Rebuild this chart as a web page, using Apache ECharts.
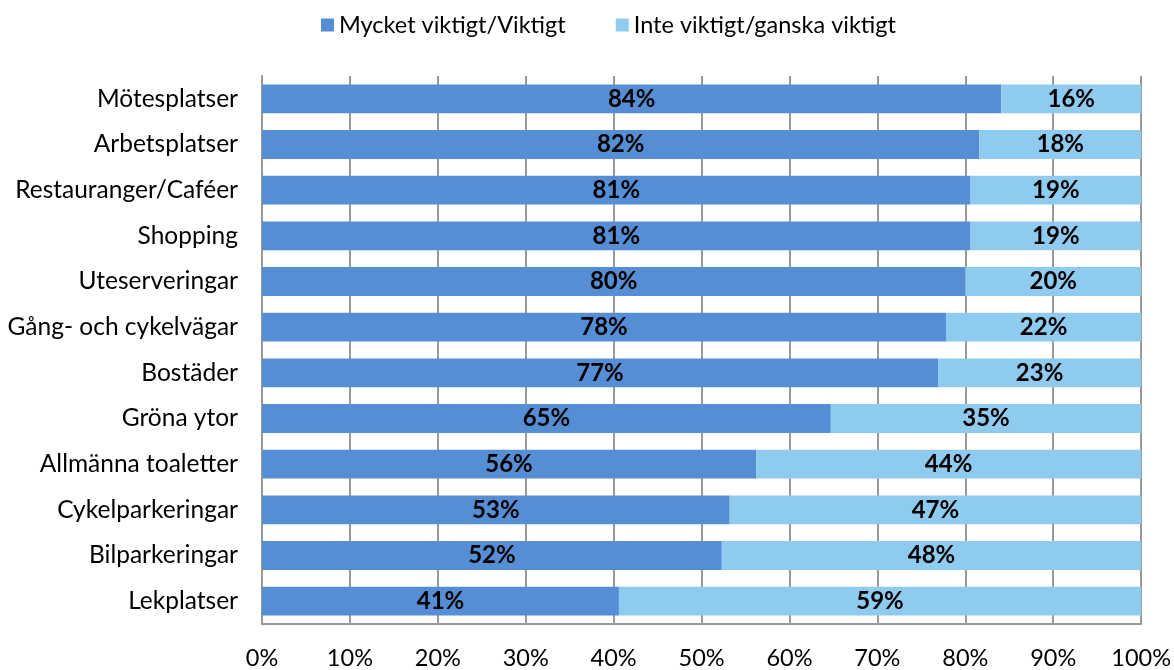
<!DOCTYPE html>
<html>
<head>
<meta charset="utf-8">
<script src="https://cdn.jsdelivr.net/npm/echarts@6/dist/echarts.min.js"></script>
<style>html,body{margin:0;padding:0;background:#fff}#c{width:1174px;height:670px}</style>
</head>
<body>
<div id="c"></div>
<script>
const categories = ["Mötesplatser","Arbetsplatser","Restauranger/Caféer","Shopping","Uteserveringar","Gång- och cykelvägar","Bostäder","Gröna ytor","Allmänna toaletter","Cykelparkeringar","Bilparkeringar","Lekplatser"];
const seriesNames = ["Mycket viktigt/Viktigt","Inte viktigt/ganska viktigt"];
const important = [84.1,81.6,80.6,80.6,80.0,77.8,76.9,64.7,56.2,53.2,52.3,40.6];
const notImportant = [15.9,18.4,19.4,19.4,20.0,22.2,23.1,35.3,43.8,46.8,47.7,59.4];
const xTicks = {min:0,max:100,interval:10};

const font = "Lato, 'Open Sans', sans-serif";
const chart = echarts.init(document.getElementById('c'));
const lbl = {show:true,position:'inside',color:'#000',fontWeight:'bold',fontSize:24,fontFamily:font,formatter:p=>Math.round(p.value)+'%'};
chart.setOption({
  animation:false,
  textStyle:{fontFamily:font},
  legend:{top:8,left:316,itemWidth:13,itemHeight:13,itemGap:50,icon:'rect',
    textStyle:{fontSize:23.5,color:'#000',fontFamily:font},data:seriesNames},
  grid:{left:262,right:32,top:76,bottom:44,containLabel:false},
  xAxis:{type:'value',min:xTicks.min,max:xTicks.max,interval:xTicks.interval,
    axisLabel:{formatter:'{value}%',fontSize:23.5,color:'#000',margin:22,fontFamily:font},
    axisLine:{show:true,lineStyle:{color:'#999',width:2}},axisTick:{show:false},
    splitLine:{show:true,lineStyle:{color:'#999',width:2}}},
  yAxis:{type:'category',inverse:true,data:categories,
    axisLabel:{fontSize:24.5,color:'#000',margin:24,fontFamily:font},
    axisLine:{show:true,lineStyle:{color:'#999',width:2}},axisTick:{show:false}},
  series:[
    {name:seriesNames[0],type:'bar',stack:'a',data:important,barCategoryGap:'37%',
      itemStyle:{color:'#558ed5'},label:lbl},
    {name:seriesNames[1],type:'bar',stack:'a',data:notImportant,barCategoryGap:'37%',
      itemStyle:{color:'#8fcbef'},label:lbl}
  ]
});
</script>
</body>
</html>
